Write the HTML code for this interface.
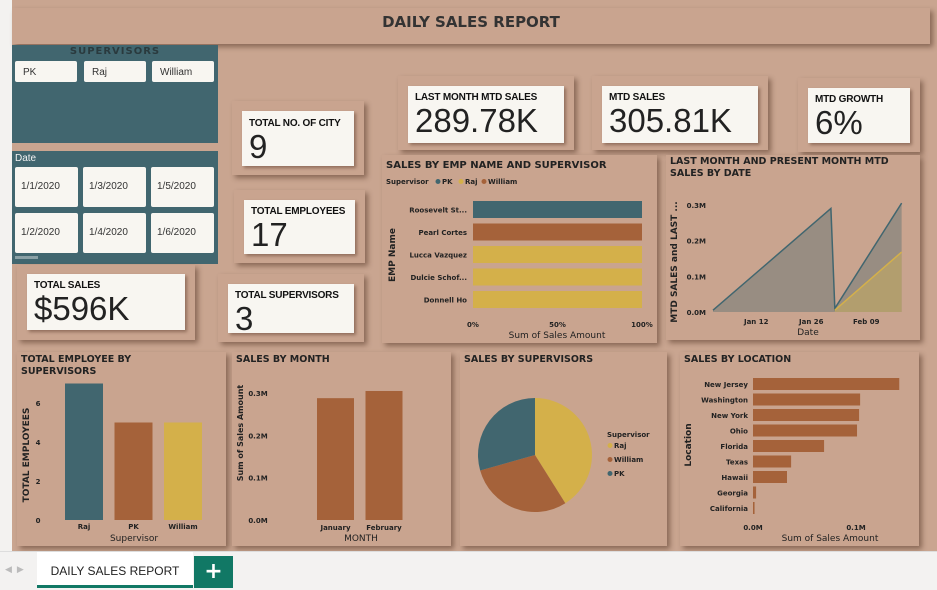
<!DOCTYPE html>
<html><head><meta charset="utf-8">
<style>
body{margin:0;width:937px;height:590px;overflow:hidden;background:#c9a590;font-family:"Liberation Sans",sans-serif;position:relative}
.a{position:absolute;box-sizing:border-box}
.p{background:#c9a48f;box-shadow:3px 3px 5px rgba(60,30,15,.45)}
.c{background:#f8f6f1;box-shadow:2px 2px 3px rgba(60,30,15,.4);padding:6px 7px;color:#111;overflow:hidden}
.c .t{font-size:10px;font-weight:bold;white-space:nowrap;letter-spacing:-0.2px}
.c .v{font-size:33px;line-height:36px;color:#222}
.b{background:#f8f6f1;border-radius:2px;font-size:10px;color:#333}
svg text{font-family:"DejaVu Sans",sans-serif}
</style></head><body>
<div class="a" style="left:0;top:0;width:12px;height:551px;background:#f3f2f0"></div>
<div class="a p" style="left:12px;top:8px;width:918px;height:36px;text-align:center;font:bold 15px 'DejaVu Sans',sans-serif;color:#333;padding-top:5px">DAILY SALES REPORT</div>

<div class="a" style="left:12px;top:45px;width:206px;height:98px;background:#41666f">
 <div class="a" style="left:0;width:206px;top:1px;text-align:center;font:bold 10px 'DejaVu Sans',sans-serif;color:#2a3a3e;letter-spacing:1px">SUPERVISORS</div>
 <div class="a b" style="left:3px;top:16px;width:62px;height:21px;padding:6px 8px">PK</div>
 <div class="a b" style="left:72px;top:16px;width:62px;height:21px;padding:6px 8px">Raj</div>
 <div class="a b" style="left:140px;top:16px;width:62px;height:21px;padding:6px 8px">William</div>
</div>
<div class="a" style="left:12px;top:151px;width:206px;height:113px;background:#41666f">
 <div class="a" style="left:3px;top:2px;font-size:10px;color:#f3f3f3">Date</div>
 <div class="a b" style="left:3px;top:16px;width:63px;height:40px;padding:14px 6px">1/1/2020</div>
 <div class="a b" style="left:71px;top:16px;width:63px;height:40px;padding:14px 6px">1/3/2020</div>
 <div class="a b" style="left:139px;top:16px;width:63px;height:40px;padding:14px 6px">1/5/2020</div>
 <div class="a b" style="left:3px;top:62px;width:63px;height:40px;padding:14px 6px">1/2/2020</div>
 <div class="a b" style="left:71px;top:62px;width:63px;height:40px;padding:14px 6px">1/4/2020</div>
 <div class="a b" style="left:139px;top:62px;width:63px;height:40px;padding:14px 6px">1/6/2020</div>
 <div class="a" style="left:3px;top:105px;width:23px;height:3px;background:#8aa0a5"></div>
</div>

<div class="a p" style="left:17px;top:265px;width:178px;height:75px"></div>
<div class="a c" style="left:27px;top:274px;width:158px;height:56px"><div class="t">TOTAL SALES</div><div class="v">$596K</div></div>
<div class="a p" style="left:232px;top:101px;width:132px;height:74px"></div>
<div class="a c" style="left:242px;top:111px;width:112px;height:55px;padding-top:7px"><div class="t">TOTAL NO. OF CITY</div><div class="v">9</div></div>
<div class="a p" style="left:234px;top:190px;width:131px;height:73px"></div>
<div class="a c" style="left:244px;top:200px;width:111px;height:54px"><div class="t">TOTAL EMPLOYEES</div><div class="v">17</div></div>
<div class="a p" style="left:218px;top:274px;width:146px;height:68px"></div>
<div class="a c" style="left:228px;top:284px;width:126px;height:49px"><div class="t">TOTAL SUPERVISORS</div><div class="v">3</div></div>
<div class="a p" style="left:398px;top:76px;width:176px;height:74px"></div>
<div class="a c" style="left:408px;top:86px;width:156px;height:57px"><div class="t">LAST MONTH MTD SALES</div><div class="v">289.78K</div></div>
<div class="a p" style="left:592px;top:76px;width:176px;height:74px"></div>
<div class="a c" style="left:602px;top:86px;width:156px;height:57px"><div class="t">MTD SALES</div><div class="v">305.81K</div></div>
<div class="a p" style="left:798px;top:78px;width:122px;height:74px"></div>
<div class="a c" style="left:808px;top:88px;width:102px;height:55px"><div class="t">MTD GROWTH</div><div class="v">6%</div></div>

<div class="a p" style="left:382px;top:155px;width:275px;height:188px"></div>
<div class="a p" style="left:666px;top:155px;width:254px;height:185px"></div>
<div class="a p" style="left:17px;top:352px;width:209px;height:194px"></div>
<div class="a p" style="left:232px;top:352px;width:219px;height:194px"></div>
<div class="a p" style="left:460px;top:352px;width:207px;height:194px"></div>
<div class="a p" style="left:680px;top:352px;width:239px;height:194px"></div>

<div class="a" style="left:0;top:551px;width:937px;height:39px;background:#f3f2f1;border-top:1px solid #ddd">
 <div class="a" style="left:5px;top:12px;font-size:9px;color:#bbb">◀ &nbsp;▶</div>
 <div class="a" style="left:37px;top:0;width:156px;height:36px;background:#fff;border-bottom:3px solid #117865;text-align:center;font-size:12px;color:#222;padding-top:12px">DAILY SALES REPORT</div>
 <div class="a" style="left:194px;top:4px;width:39px;height:32px;background:#117865;color:#fff;font:bold 22px 'DejaVu Sans',sans-serif;text-align:center;line-height:32px">+</div>
</div>

<svg class="a" style="left:0;top:0" width="937" height="590" id="s"></svg>
<script>
const empNames=["Roosevelt St...","Pearl Cortes","Lucca Vazquez","Dulcie Schof...","Donnell Ho"];
const empShare=[100,100,100,100,100];
const empSup=["PK","William","Raj","Raj","Raj"];
const lineDays=[0,30,31,48];
const lastMonth=[0.005,0.29,0.01,0.305];
const presentDays=[31,48];
const presentMonth=[0.005,0.168];
const supNames=["Raj","PK","William"];
const supEmp=[7,5,5];
const months=["January","February"];
const monthSales=[0.288,0.305];
const pieNames=["Raj","William","PK"];
const pieSales=[0.246,0.177,0.176];
const locNames=["New Jersey","Washington","New York","Ohio","Florida","Texas","Hawaii","Georgia","California"];
const locSales=[0.142,0.104,0.103,0.101,0.069,0.037,0.033,0.003,0.0015];
const COL={PK:"#41666f",Raj:"#d4b04a",William:"#a5623a"};
const barCols=["#41666f","#a5623a","#d4b04a"];
const s=document.getElementById('s');const NS="http://www.w3.org/2000/svg";
function el(t,a,txt){const e=document.createElementNS(NS,t);for(const k in a)e.setAttribute(k,a[k]);if(txt!==undefined)e.textContent=txt;s.appendChild(e);return e;}
function tx(x,y,str,size,anchor,weight,name,rot){const e=el('text',{x:x,y:y,'font-size':size,'text-anchor':anchor||'start','font-weight':weight||'bold',fill:'#222'},str);if(rot)e.setAttribute('transform','rotate(-90 '+x+' '+y+')');return e;}
function rc(x,y,w,h,f,name){const e=el('rect',{x:x,y:y,width:w,height:h,fill:f});return e;}
// emp chart
tx(386,168,"SALES BY EMP NAME AND SUPERVISOR",10,'start','bold','emp-chart-title');
tx(386,184,"Supervisor",7,'start','bold','emp-legend-title');
[["PK",438],["Raj",461],["William",484]].forEach(([n,x])=>{const c=el('circle',{cx:x,cy:181.5,r:2.5,fill:COL[n]});tx(x+4,184,n,7,'start','bold','legend-'+n.toLowerCase());});
const ex=v=>473+v*1.69;
empNames.forEach((n,i)=>{const y=201+i*22.5;rc(473,y,ex(empShare[i])-473,17,COL[empSup[i]],'emp-bar-'+i);tx(467,y+11.5,n,7,'end','bold','emp-label-'+i);});
[[0,"0%"],[50,"50%"],[100,"100%"]].forEach(([v,l])=>tx(ex(v),327,l,7,'middle','bold','emp-tick-'+v));
tx(557,338,"Sum of Sales Amount",9,'middle','normal','emp-x-title');
tx(395,255,"EMP Name",9,'middle','bold','emp-y-title',1);
// line chart
tx(670,164,"LAST MONTH AND PRESENT MONTH MTD",9.5,'start','bold','line-title-1');
tx(670,176,"SALES BY DATE",9.5,'start','bold','line-title-2');
const lx=d=>713+d*3.93, ly=v=>312-v*357;
[[0,"0.0M"],[0.1,"0.1M"],[0.2,"0.2M"],[0.3,"0.3M"]].forEach(([v,l])=>tx(706,ly(v)+3,l,7,'end','bold','line-ytick-'+l));
[[11,"Jan 12"],[25,"Jan 26"],[39,"Feb 09"]].forEach(([d,l])=>tx(lx(d),324,l,7,'middle','bold','line-xtick-'+d));
tx(808,335,"Date",9,'middle','normal','line-x-title');
tx(677,262,"MTD SALES and LAST ...",9,'middle','bold','line-y-title',1);
function area(days,vals,fill,stroke,name){let d="M"+lx(days[0])+","+ly(0);days.forEach((x,i)=>d+="L"+lx(x)+","+ly(vals[i]));d+="L"+lx(days[days.length-1])+","+ly(0)+"Z";const a=el('path',{d:d,fill:fill,opacity:0.55});
let l="";days.forEach((x,i)=>l+=(i?"L":"M")+lx(x)+","+ly(vals[i]));const p=el('path',{d:l,fill:'none',stroke:stroke,'stroke-width':1.5});}
area(lineDays,lastMonth,"#6f7a78","#41666f","last-month");
area(presentDays,presentMonth,"#c9ad5e","#d4b04a","present-month");
// employees by supervisor
tx(21,362,"TOTAL EMPLOYEE BY",9.5,'start','bold','emp-sup-title-1');
tx(21,374,"SUPERVISORS",9.5,'start','bold','emp-sup-title-2');
const ey=v=>520-v*19.5;
[0,2,4,6].forEach(v=>tx(38,ey(v)+3,String(v),7,'middle','bold','emp-sup-ytick-'+v));
supNames.forEach((n,i)=>{const x=65+i*49.5;rc(x,ey(supEmp[i]),38,ey(0)-ey(supEmp[i]),barCols[i],'emp-sup-bar-'+n.toLowerCase());tx(x+19,529,n,7,'middle','bold','emp-sup-xlabel-'+i);});
tx(134,541,"Supervisor",9,'middle','normal','emp-sup-x-title');
tx(29,455,"TOTAL EMPLOYEES",9,'middle','bold','emp-sup-y-title',1);
// sales by month
tx(236,362,"SALES BY MONTH",9.5,'start','bold','month-title');
const my=v=>520-v*423;
[[0,"0.0M"],[0.1,"0.1M"],[0.2,"0.2M"],[0.3,"0.3M"]].forEach(([v,l])=>tx(258,my(v)+3,l,7,'middle','bold','month-ytick-'+l));
months.forEach((m,i)=>{const x=317+i*48.5;rc(x,my(monthSales[i]),37,my(0)-my(monthSales[i]),"#a5623a",'month-bar-'+m.toLowerCase());tx(x+18.5,530,m,7,'middle','bold','month-xlabel-'+i);});
tx(361,541,"MONTH",9,'middle','normal','month-x-title');
tx(243,433,"Sum of Sales Amount",8,'middle','bold','month-y-title',1);
// pie
tx(464,362,"SALES BY SUPERVISORS",9.5,'start','bold','pie-title');
const tot=pieSales.reduce((a,b)=>a+b,0);let ang=0;const cx=535,cy=455,r=57;
pieNames.forEach((n,i)=>{const a0=ang,a1=ang+pieSales[i]/tot*2*Math.PI;ang=a1;const x0=cx+r*Math.sin(a0),y0=cy-r*Math.cos(a0),x1=cx+r*Math.sin(a1),y1=cy-r*Math.cos(a1);const p=el('path',{d:`M${cx},${cy}L${x0},${y0}A${r},${r} 0 ${a1-a0>Math.PI?1:0} 1 ${x1},${y1}Z`,fill:COL[n]});});
tx(607,437,"Supervisor",7,'start','bold','pie-legend-title');
pieNames.forEach((n,i)=>{const y=448+i*14;const c=el('circle',{cx:610,cy:y-2.5,r:2.5,fill:COL[n]});tx(614,y,n,7,'start','bold','pie-legend-'+n.toLowerCase());});
// location
tx(684,362,"SALES BY LOCATION",9.5,'start','bold','loc-title');
const lox=v=>753+v*1030;
locNames.forEach((n,i)=>{const y=378+i*15.5;rc(753,y,Math.max(lox(locSales[i])-753,1),12,"#a5623a",'loc-bar-'+i);tx(748,y+9,n,7,'end','bold','loc-label-'+i);});
[[0,"0.0M"],[0.1,"0.1M"]].forEach(([v,l])=>tx(lox(v),530,l,7,'middle','bold','loc-xtick-'+l));
tx(830,541,"Sum of Sales Amount",9,'middle','normal','loc-x-title');
tx(691,445,"Location",9,'middle','bold','loc-y-title',1);
</script>
</body></html>
